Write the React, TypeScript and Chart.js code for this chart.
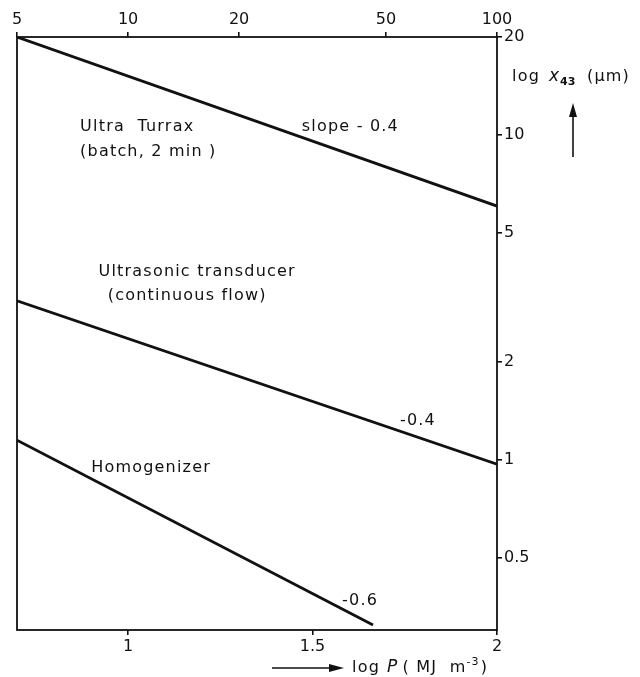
import React, { useEffect, useRef } from "react";
import { Chart, registerables } from "chart.js";

Chart.register(...registerables);

// ---- data ----
const logPMin = Math.log10(5);
const logPMax = 2;
const bottomTicks = [1, 1.5, 2];
const topTickValues = [5, 10, 20, 50, 100]; // P in MJ m^-3
const rightTicks = [0.5, 1, 2, 5, 10, 20]; // x43 in µm
const x43Min = 0.311;
const x43Max = 20;

const ultraTurraxLogP = [logPMin, 2];
const ultraTurraxX43 = [20, 6.04];
const ultrasonicLogP = [logPMin, 2];
const ultrasonicX43 = [3.09, 0.97];
const homogenizerLogP = [logPMin, 1.664];
const homogenizerX43 = [1.15, 0.311];

const labelTexts = [
  "Ultra  Turrax",
  "(batch, 2 min )",
  "slope - 0.4",
  "Ultrasonic transducer",
  "(continuous flow)",
  "-0.4",
  "Homogenizer",
  "-0.6",
];
const labelLogP = [0.87, 0.87, 1.471, 0.92, 0.945, 1.737, 0.9, 1.58];
const labelX43 = [10.6, 8.85, 10.6, 3.79, 3.2, 1.32, 0.944, 0.37];

const FONT = '"DejaVu Sans", "Liberation Sans", sans-serif';
const INK = "#111";

function pts(xs: number[], ys: number[]) {
  return xs.map((x, i) => ({ x, y: ys[i] }));
}

const decorPlugin = {
  id: "decor",
  afterDraw(chart: any) {
    const { ctx, chartArea, scales } = chart;
    const { left, right, top, bottom } = chartArea;
    ctx.save();
    // frame
    ctx.strokeStyle = INK;
    ctx.lineWidth = 1.8;
    ctx.strokeRect(left, top, right - left, bottom - top);

    // annotations
    ctx.fillStyle = INK;
    (ctx as any).letterSpacing = "1.2px";
    ctx.font = `16px ${FONT}`;
    ctx.textBaseline = "middle";
    ctx.textAlign = "left";
    labelTexts.forEach((t, i) => {
      const px = scales.x.getPixelForValue(labelLogP[i]);
      const py = scales.y.getPixelForValue(labelX43[i]);
      ctx.fillText(t, px, py);
    });

    // right axis title: log x43 (µm)
    const ty = top + 40;
    ctx.font = `16px ${FONT}`;
    ctx.fillText("log", right + 15, ty);
    ctx.font = `italic 17px ${FONT}`;
    ctx.fillText("x", right + 52, ty);
    ctx.font = `bold 11px ${FONT}`;
    (ctx as any).letterSpacing = "0px";
    ctx.fillText("43", right + 63, ty + 5);
    (ctx as any).letterSpacing = "1.2px";
    ctx.font = `16px ${FONT}`;
    ctx.fillText("(µm)", right + 90, ty);

    // upward arrow
    const ax = right + 76;
    ctx.lineWidth = 1.6;
    ctx.beginPath();
    ctx.moveTo(ax, top + 120);
    ctx.lineTo(ax, top + 74);
    ctx.stroke();
    ctx.beginPath();
    ctx.moveTo(ax, top + 66);
    ctx.lineTo(ax - 4, top + 80);
    ctx.lineTo(ax + 4, top + 80);
    ctx.closePath();
    ctx.fill();

    // bottom axis title: ——→ log P (MJ m^-3)
    const by = bottom + 38;
    ctx.beginPath();
    ctx.moveTo(right - 225, by);
    ctx.lineTo(right - 165, by);
    ctx.stroke();
    ctx.beginPath();
    ctx.moveTo(right - 153, by);
    ctx.lineTo(right - 168, by - 4);
    ctx.lineTo(right - 168, by + 4);
    ctx.closePath();
    ctx.fill();
    let bx = right - 145;
    ctx.font = `16px ${FONT}`;
    ctx.fillText("log", bx, by);
    bx += ctx.measureText("log").width + 7;
    ctx.font = `italic 17px ${FONT}`;
    ctx.fillText("P", bx, by);
    bx += ctx.measureText("P").width + 4;
    ctx.font = `16px ${FONT}`;
    ctx.fillText("( MJ  m", bx, by);
    bx += ctx.measureText("( MJ  m").width;
    ctx.font = `11px ${FONT}`;
    ctx.fillText("-3", bx, by - 6);
    bx += ctx.measureText("-3").width + 1;
    ctx.font = `16px ${FONT}`;
    ctx.fillText(")", bx, by);
    ctx.restore();
  },
};

export default function App() {
  const ref = useRef<HTMLCanvasElement | null>(null);
  useEffect(() => {
    if (!ref.current) return;
    const lineStyle = {
      borderColor: INK,
      borderWidth: 2.8,
      pointRadius: 0,
      fill: false,
      tension: 0,
    };
    const tickFont = { family: FONT, size: 16 };
    const gridOpts = {
      drawOnChartArea: false,
      drawTicks: true,
      tickLength: 5,
      color: INK,
      lineWidth: 1.6,
    };
    const chart = new Chart(ref.current, {
      type: "line",
      data: {
        datasets: [
          { label: "Ultra Turrax", data: pts(ultraTurraxLogP, ultraTurraxX43), ...lineStyle },
          { label: "Ultrasonic transducer", data: pts(ultrasonicLogP, ultrasonicX43), ...lineStyle },
          { label: "Homogenizer", data: pts(homogenizerLogP, homogenizerX43), ...lineStyle },
        ],
      },
      options: {
        animation: false,
        responsive: false,
        maintainAspectRatio: false,
        layout: { padding: { left: 17, right: 0, top: 0, bottom: 0 } },
        plugins: { legend: { display: false }, tooltip: { enabled: false } },
        scales: {
          x: {
            type: "linear",
            position: "bottom",
            min: logPMin,
            max: logPMax,
            afterBuildTicks: (s: any) => {
              s.ticks = bottomTicks.map((v) => ({ value: v }));
            },
            afterFit: (s: any) => {
              s.height = 47;
            },
            ticks: {
              autoSkip: false,
              maxRotation: 0,
              padding: 2,
              color: INK,
              font: tickFont,
              callback: (v: any) => String(v),
            },
            grid: gridOpts,
            border: { display: false },
          },
          xTop: {
            type: "linear",
            position: "top",
            min: logPMin,
            max: logPMax,
            afterBuildTicks: (s: any) => {
              s.ticks = topTickValues.map((v) => ({ value: Math.log10(v) }));
            },
            afterFit: (s: any) => {
              s.height = 37;
            },
            ticks: {
              autoSkip: false,
              maxRotation: 0,
              padding: 3,
              color: INK,
              font: tickFont,
              callback: (v: any) => String(Math.round(Math.pow(10, v))),
            },
            grid: gridOpts,
            border: { display: false },
          },
          y: {
            type: "logarithmic",
            position: "right",
            min: x43Min,
            max: x43Max,
            afterBuildTicks: (s: any) => {
              s.ticks = rightTicks.map((v) => ({ value: v }));
            },
            afterFit: (s: any) => {
              s.width = 143;
            },
            ticks: {
              autoSkip: false,
              padding: 2,
              color: INK,
              font: tickFont,
              callback: (v: any) => String(v),
            },
            grid: gridOpts,
            border: { display: false },
          },
        },
      },
      plugins: [decorPlugin],
    });
    return () => chart.destroy();
  }, []);
  return (
    <div style={{ position: "absolute", left: 0, top: 0, width: 640, height: 677, background: "#fff" }}>
      <canvas ref={ref} width={640} height={677} style={{ width: 640, height: 677, display: "block" }} />
    </div>
  );
}
